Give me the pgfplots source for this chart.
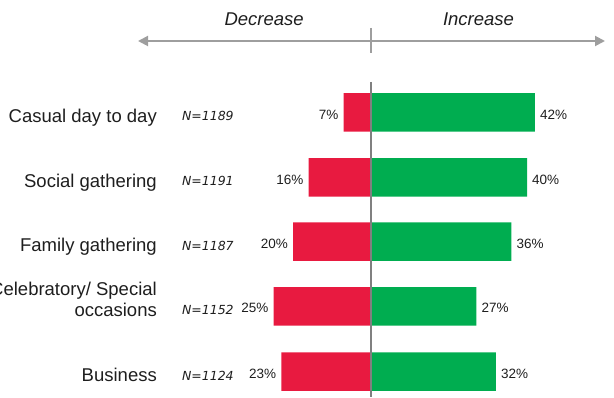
\documentclass[border=0pt]{standalone}
\usepackage{fontspec}
\setmainfont{Liberation Sans}
\newfontfamily\dejavu{DejaVu Sans}
\usepackage{pgfplots}
\pgfplotsset{compat=1.18}
\usetikzlibrary{arrows.meta}
\definecolor{decred}{RGB}{232,26,64}
\definecolor{incgreen}{RGB}{0,173,80}
\definecolor{linegray}{RGB}{128,128,128}
\definecolor{arrowgray}{RGB}{158,158,158}
\definecolor{txt}{RGB}{30,30,30}
\begin{document}
\begin{tikzpicture}
\begin{axis}[
  at={(0pt,0pt)}, anchor=south west,
  scale only axis, width=614pt, height=397pt,
  xmin=-95.128, xmax=62.308, ymin=0, ymax=397,
  hide axis, clip=false,
  xbar, bar width=38.5, bar shift=0pt,
  point meta=explicit,
  /pgf/number format/assume math mode=true,
  nodes near coords={\pgfmathprintnumber{\pgfplotspointmeta}\%},
  nodes near coords style={font=\fontsize{13.5}{15}\selectfont, text=txt, inner sep=0pt},
]
% Decrease (red)
\addplot[fill=decred, draw=none,
  every node near coord/.append style={anchor=east, xshift=-5pt, yshift=-2pt}]
  coordinates {(-7,284.5) [7] (-16,219.5) [16] (-20,155.3) [20] (-25,90.7) [25] (-23,25.3) [23]};
% Increase (green)
\addplot[fill=incgreen, draw=none,
  every node near coord/.append style={anchor=west, xshift=5pt, yshift=-2pt}]
  coordinates {(42,284.5) [42] (40,219.5) [40] (36,155.3) [36] (27,90.7) [27] (32,25.3) [32]};

% centre line
\draw[linegray, line width=2.4pt] (axis cs:0,315) -- (axis cs:0,0);
% top arrow
\draw[arrowgray, line width=2pt, {Triangle[length=10pt,width=10pt]}-{Triangle[length=10pt,width=10pt]}] (axis cs:-59.74,356) -- (axis cs:60.0,356);
\draw[arrowgray, line width=1.2pt] (axis cs:0,369) -- (axis cs:0,344);
\node[anchor=base, font=\fontsize{18.5}{21}\selectfont\itshape, text=txt, inner sep=0pt] at (axis cs:-27.4,371) {Decrease};
\node[anchor=base, font=\fontsize{18.5}{21}\selectfont\itshape, text=txt, inner sep=0pt] at (axis cs:27.56,371) {Increase};

% category labels
\node[anchor=base east, font=\fontsize{18.5}{21}\selectfont, text=txt, inner sep=0pt] at (axis cs:-54.87,274.5) {Casual day to day};
\node[anchor=base east, font=\fontsize{18.5}{21}\selectfont, text=txt, inner sep=0pt] at (axis cs:-54.87,209.5) {Social gathering};
\node[anchor=base east, font=\fontsize{18.5}{21}\selectfont, text=txt, inner sep=0pt] at (axis cs:-54.87,145.3) {Family gathering};
\node[anchor=base east, font=\fontsize{18.5}{21}\selectfont, text=txt, inner sep=0pt] at (axis cs:-54.87,102) {Celebratory/ Special};
\node[anchor=base east, font=\fontsize{18.5}{21}\selectfont, text=txt, inner sep=0pt] at (axis cs:-54.87,81) {occasions};
\node[anchor=base east, font=\fontsize{18.5}{21}\selectfont, text=txt, inner sep=0pt] at (axis cs:-54.87,15.3) {Business};

% N labels
\node[anchor=base west, font=\fontsize{12.5}{14}\selectfont\dejavu\itshape, text=txt, inner sep=0pt] at (axis cs:-48.5,276) {N=1189};
\node[anchor=base west, font=\fontsize{12.5}{14}\selectfont\dejavu\itshape, text=txt, inner sep=0pt] at (axis cs:-48.5,211) {N=1191};
\node[anchor=base west, font=\fontsize{12.5}{14}\selectfont\dejavu\itshape, text=txt, inner sep=0pt] at (axis cs:-48.5,146.8) {N=1187};
\node[anchor=base west, font=\fontsize{12.5}{14}\selectfont\dejavu\itshape, text=txt, inner sep=0pt] at (axis cs:-48.5,82.2) {N=1152};
\node[anchor=base west, font=\fontsize{12.5}{14}\selectfont\dejavu\itshape, text=txt, inner sep=0pt] at (axis cs:-48.5,16.8) {N=1124};
\end{axis}
\pgfresetboundingbox
\useasboundingbox (0pt,0pt) rectangle (614pt,397pt);
\end{tikzpicture}
\end{document}
